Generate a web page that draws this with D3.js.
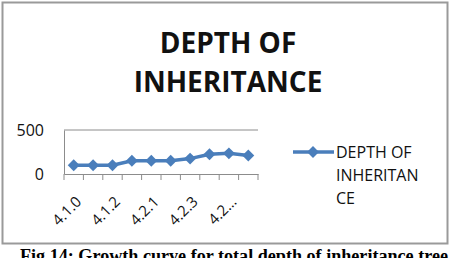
<!DOCTYPE html>
<html>
<head>
<meta charset="utf-8">
<script src="https://cdn.jsdelivr.net/npm/d3@7"></script>
<style>
  body { margin: 0; background: #fff; }
  svg { display: block; }
</style>
</head>
<body>
<div id="chart"></div>
<script>
var categories = ['4.1.0', '4.1.1', '4.1.2', '4.2.0', '4.2.1', '4.2.2', '4.2.3', '4.2.4', '4.2.10', '4.2.11'];
var depthValues = [100, 100, 100, 150, 150, 150, 175, 225, 235, 210];
var yTicks = [0, 500];
var seriesName = 'DEPTH OF INHERITANCE';
var legendLines = ['DEPTH OF', 'INHERITAN', 'CE'];

var width = 451, height = 258;
var blue = '#4a7ebb';

var svg = d3.select('#chart').append('svg')
  .attr('width', width)
  .attr('height', height);

// chart frame
svg.append('rect')
  .attr('x', 2.5).attr('y', 2.5)
  .attr('width', 445).attr('height', 241)
  .attr('fill', '#fff')
  .attr('stroke', '#9a9a9a')
  .attr('stroke-width', 2);

// title
svg.append('text')
  .attr('x', 228).attr('y', 53)
  .attr('text-anchor', 'middle')
  .attr('font-family', 'Open Sans, sans-serif')
  .attr('font-weight', 'bold')
  .attr('font-size', 28)
  .attr('fill', '#111')
  .text('DEPTH OF');
svg.append('text')
  .attr('x', 228).attr('y', 92)
  .attr('text-anchor', 'middle')
  .attr('font-family', 'Open Sans, sans-serif')
  .attr('font-weight', 'bold')
  .attr('font-size', 28)
  .attr('fill', '#111')
  .text('INHERITANCE');

var xScale = d3.scaleBand().domain(categories).range([64, 258]);
var yScale = d3.scaleLinear().domain([0, 500]).range([174, 130]);

// gridline
svg.selectAll('.grid')
  .data(yTicks.filter(function(d) { return d > 0; }))
  .enter().append('line')
  .attr('x1', 64).attr('x2', 258)
  .attr('y1', function(d) { return yScale(d); })
  .attr('y2', function(d) { return yScale(d); })
  .attr('stroke', '#8c8c8c')
  .attr('stroke-width', 1);

// y axis
var yAxis = svg.append('g')
  .attr('transform', 'translate(64,0)')
  .call(d3.axisLeft(yScale).tickValues(yTicks).tickSize(0).tickPadding(20));
yAxis.select('.domain').attr('stroke', '#8c8c8c');
yAxis.selectAll('text')
  .attr('font-family', 'Open Sans, sans-serif')
  .attr('font-size', 16)
  .attr('fill', '#111');

// x axis
var xAxis = svg.append('g')
  .attr('transform', 'translate(0,174)')
  .call(d3.axisBottom(xScale).tickSize(0).tickFormat(function(d, i) {
    if (i % 2) return '';
    return d.length > 5 ? '4.2…' : d;
  }));
xAxis.select('.domain').attr('stroke', '#8c8c8c');
xAxis.selectAll('.boundary')
  .data(d3.range(categories.length + 1))
  .enter().append('line')
  .attr('x1', function(i) { return 64 + i * xScale.step(); })
  .attr('x2', function(i) { return 64 + i * xScale.step(); })
  .attr('y1', 0).attr('y2', 6)
  .attr('stroke', '#8c8c8c');
xAxis.selectAll('.tick text')
  .attr('font-family', 'Open Sans, sans-serif')
  .attr('font-size', 15)
  .attr('fill', '#111')
  .attr('text-anchor', 'end')
  .attr('transform', 'translate(-3,17) rotate(-45)')
  .attr('dy', '0.9em');

// line
var line = d3.line()
  .x(function(d, i) { return xScale(categories[i]) + xScale.bandwidth() / 2; })
  .y(function(d) { return yScale(d); });

svg.append('path')
  .datum(depthValues)
  .attr('d', line)
  .attr('fill', 'none')
  .attr('stroke', blue)
  .attr('stroke-width', 3.5);

var diamond = d3.symbol().type(d3.symbolDiamond2).size(90);
svg.selectAll('.pt')
  .data(depthValues)
  .enter().append('path')
  .attr('d', diamond)
  .attr('transform', function(d, i) {
    return 'translate(' + (xScale(categories[i]) + xScale.bandwidth() / 2) + ',' + yScale(d) + ')';
  })
  .attr('fill', blue);

// legend
var legend = svg.append('g').attr('aria-label', seriesName);
legend.append('line')
  .attr('x1', 293).attr('x2', 334)
  .attr('y1', 152).attr('y2', 152)
  .attr('stroke', blue).attr('stroke-width', 3.5);
legend.append('path')
  .attr('d', diamond)
  .attr('transform', 'translate(313,152)')
  .attr('fill', blue);
legend.selectAll('.lt')
  .data(legendLines)
  .enter().append('text')
  .attr('x', 336)
  .attr('y', function(d, i) { return 158 + i * 23; })
  .attr('font-family', 'Open Sans, sans-serif')
  .attr('font-size', 16)
  .attr('fill', '#111')
  .text(function(d) { return d; });

// caption
svg.append('text')
  .attr('x', 20).attr('y', 262)
  .attr('font-family', 'Liberation Serif, serif')
  .attr('font-weight', 'bold')
  .attr('font-size', 18)
  .attr('textLength', 428)
  .attr('lengthAdjust', 'spacingAndGlyphs')
  .attr('fill', '#000')
  .text('Fig 14: Growth curve for total depth of inheritance tree');
</script>
</body>
</html>
